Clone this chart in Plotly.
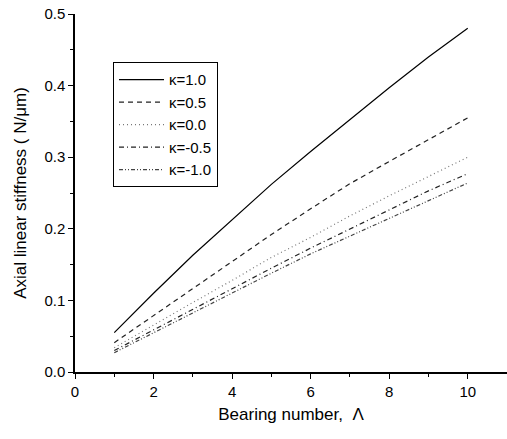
import plotly.graph_objects as go

bearing = [1, 2, 3, 4, 5, 6, 7, 8, 9, 10]
k_p10 = [0.055, 0.110, 0.163, 0.213, 0.262, 0.308, 0.353, 0.397, 0.440, 0.480]
k_p05 = [0.041, 0.079, 0.117, 0.155, 0.192, 0.228, 0.263, 0.294, 0.325, 0.355]
k_p00 = [0.034, 0.066, 0.097, 0.128, 0.160, 0.188, 0.218, 0.246, 0.273, 0.300]
k_m05 = [0.030, 0.059, 0.088, 0.117, 0.145, 0.173, 0.200, 0.227, 0.253, 0.277]
k_m10 = [0.027, 0.055, 0.083, 0.111, 0.138, 0.165, 0.190, 0.215, 0.240, 0.264]

series = [
    ("κ=1.0", k_p10, "solid", "#000000"),
    ("κ=0.5", k_p05, "5px,4px", "#222222"),
    ("κ=0.0", k_p00, "1px,3px", "#777777"),
    ("κ=-0.5", k_m05, "5px,3px,1px,3px", "#222222"),
    ("κ=-1.0", k_m10, "4px,2px,1px,2px,1px,2px", "#444444"),
]

fig = go.Figure()
for i, (name, vals, dash, col) in enumerate(series):
    fig.add_trace(go.Scatter(x=bearing, y=vals, mode="lines", name=name,
                             legendgroup=f"g{i}",
                             line=dict(color=col, width=1.2, dash=dash)))

font = "Liberation Sans, Arial, sans-serif"
fig.update_layout(
    width=507, height=439,
    margin=dict(l=75, r=0, t=14, b=67),
    paper_bgcolor="white", plot_bgcolor="white",
    font=dict(family=font, size=15, color="black"),
    showlegend=True,
    legend=dict(x=0.088, y=0.865, xanchor="left", yanchor="top",
                bordercolor="black", borderwidth=1, bgcolor="white",
                font=dict(size=15), tracegroupgap=0, itemwidth=45),
    xaxis=dict(range=[0, 11], tickvals=[0, 2, 4, 6, 8, 10], ticks="outside",
               ticklen=5, tickwidth=1, tickcolor="black", showline=True,
               linecolor="black", linewidth=1.5, showgrid=False, zeroline=False,
               automargin=False,
               minor=dict(tickvals=[1, 3, 5, 7, 9], ticks="outside", ticklen=3,
                          tickcolor="black", showgrid=False),
               title=dict(text="Bearing number,  Λ", font=dict(size=17), standoff=9)),
    yaxis=dict(range=[0, 0.5], tickvals=[0, 0.1, 0.2, 0.3, 0.4, 0.5],
               ticktext=["0.0", "0.1", "0.2", "0.3", "0.4", "0.5"],
               ticks="outside", ticklen=5, tickwidth=1, tickcolor="black",
               showline=True, linecolor="black", linewidth=1.5, showgrid=False,
               zeroline=False, automargin=False,
               minor=dict(tickvals=[0.05, 0.15, 0.25, 0.35, 0.45], ticks="outside",
                          ticklen=3, tickcolor="black", showgrid=False),
               title=dict(text="Axial linear stiffness ( N/μm)", font=dict(size=17), standoff=13)),
)

fig.write_html("out.html", config={"displayModeBar": False},
               post_script="document.body.style.margin='0';")
